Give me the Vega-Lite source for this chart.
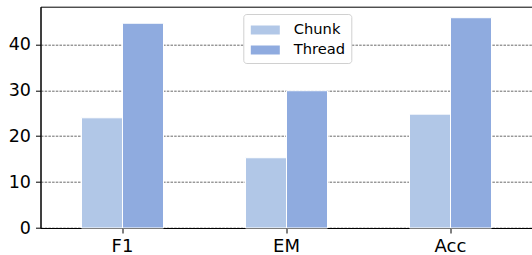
{
  "$schema": "https://vega.github.io/schema/vega-lite/v6.json",
  "autosize": "none",
  "width": 492,
  "height": 221.3,
  "padding": {"left": 40.5, "top": 6.7, "right": 0, "bottom": 27},
  "background": "white",
  "config": {
    "font": "DejaVu Sans",
    "view": {"stroke": "black", "strokeWidth": 1}
  },
  "data": {
    "values": [
      {"metric": "F1", "method": "Chunk", "value": 24.0},
      {"metric": "F1", "method": "Thread", "value": 44.6},
      {"metric": "EM", "method": "Chunk", "value": 15.3},
      {"metric": "EM", "method": "Thread", "value": 29.9},
      {"metric": "Acc", "method": "Chunk", "value": 24.8},
      {"metric": "Acc", "method": "Thread", "value": 45.8}
    ]
  },
  "mark": {"type": "bar", "stroke": "white", "strokeWidth": 1},
  "encoding": {
    "x": {
      "field": "metric",
      "type": "nominal",
      "sort": ["F1", "EM", "Acc"],
      "scale": {"paddingInner": 0.5, "paddingOuter": 0.25},
      "axis": {
        "title": null,
        "labelAngle": 0,
        "labelFontSize": 18,
        "labelColor": "black",
        "labelPadding": 4,
        "tickColor": "black",
        "tickSize": 5,
        "domainColor": "black",
        "grid": false
      }
    },
    "xOffset": {
      "field": "method",
      "type": "nominal",
      "sort": ["Chunk", "Thread"],
      "scale": {"paddingInner": 0, "paddingOuter": 0}
    },
    "y": {
      "field": "value",
      "type": "quantitative",
      "scale": {"domain": [0, 48.2], "nice": false, "zero": true},
      "axis": {
        "title": null,
        "values": [0, 10, 20, 30, 40],
        "labelFontSize": 17.5,
        "labelColor": "black",
        "labelPadding": 5,
        "tickColor": "black",
        "tickSize": 5,
        "domainColor": "black",
        "grid": true,
        "gridColor": "#444444",
        "gridDash": [2.5, 1.2],
        "gridWidth": 0.8
      }
    },
    "color": {
      "field": "method",
      "type": "nominal",
      "sort": ["Chunk", "Thread"],
      "scale": {"domain": ["Chunk", "Thread"], "range": ["#b1c7e7", "#8fabdf"]},
      "legend": {
        "title": null,
        "orient": "none",
        "legendX": 202.8,
        "legendY": 7.3,
        "padding": 6,
        "cornerRadius": 3,
        "strokeColor": "#d0d0d0",
        "fillColor": "white",
        "labelFontSize": 14.7,
        "labelColor": "black",
        "labelOffset": 18.4,
        "symbolOffset": 6,
        "symbolType": "M-1.45,-0.45H1.45V0.45H-1.45Z",
        "symbolSize": 400,
        "symbolStrokeWidth": 0,
        "symbolOpacity": 1,
        "rowPadding": 3
      }
    }
  }
}
